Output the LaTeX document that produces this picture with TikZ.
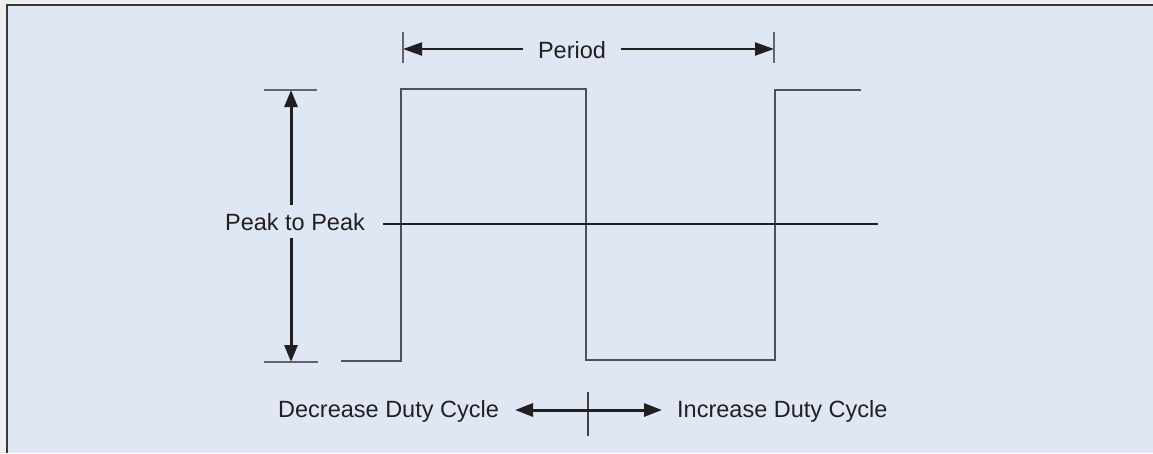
\documentclass[tikz,border=0pt]{standalone}
\usepackage{fontspec}
\setmainfont{Liberation Sans}
\usetikzlibrary{arrows.meta}
\definecolor{bgc}{RGB}{224,231,244}
\definecolor{ink}{RGB}{35,31,32}
\definecolor{wavec}{RGB}{80,80,86}
\definecolor{tickc}{RGB}{100,100,106}
\definecolor{outc}{RGB}{238,238,238}
\tikzset{
  lbl/.style={inner sep=0pt, text=ink, font=\fontsize{23.5}{28}\selectfont},
  wave/.style={draw=wavec, line width=1.8pt, line join=miter},
  tickln/.style={draw=tickc, line width=1.6pt},
  parr/.style={draw=ink, line width=2.2pt, -{Triangle[length=19pt,width=13pt]}},
  varr/.style={draw=ink, line width=3pt, -{Triangle[length=17pt,width=13pt]}},
  darr/.style={draw=ink, line width=3pt, {Triangle[length=18pt,width=13pt]}-{Triangle[length=18pt,width=13pt]}},
  midln/.style={draw=ink, line width=2pt},
}
\begin{document}
\begin{tikzpicture}[x=1pt,y=-1pt]
\useasboundingbox (0,0) rectangle (1153,453);
% background and frame
\fill[outc] (0,0) rectangle (1153,453);
\fill[bgc] (7,5) rectangle (1153,453);
\draw[ink!90, line width=2.4pt] (7,453) -- (7,5) -- (1153,5);

% square wave
\coordinate (w0) at (341,361);
\coordinate (w1) at (401,361);
\coordinate (w2) at (401,89);
\coordinate (w3) at (586,89);
\coordinate (w4) at (586,360);
\coordinate (w5) at (775,360);
\coordinate (w6) at (775,90);
\coordinate (w7) at (861,90);
\draw[wave] (w0) -- (w1) -- (w2) -- (w3) -- (w4) -- (w5) -- (w6) -- (w7);

% midline
\coordinate (m0) at (383,224);
\coordinate (m1) at (878,224);
\draw[midln] (m0) -- (m1);

% period
\node[lbl, anchor=base, inner xsep=15pt] (per) at (572,58) {Period};
\coordinate (pLt) at (403,32);
\coordinate (pLb) at (403,63);
\coordinate (pRt) at (774,32);
\coordinate (pRb) at (774,63);
\coordinate (pL) at (403,49);
\coordinate (pR) at (774,49);
\draw[tickln] (pLt) -- (pLb);
\draw[tickln] (pRt) -- (pRb);
\draw[parr] (pL -| per.west) -- (pL);
\draw[parr] (pR -| per.east) -- (pR);

% peak to peak
\node[lbl, anchor=base, inner ysep=8pt] (pk) at (295,230) {Peak to Peak};
\coordinate (tkT0) at (264,90);
\coordinate (tkT1) at (317,90);
\coordinate (tkB0) at (264,362);
\coordinate (tkB1) at (318,362);
\draw[tickln] (tkT0) -- (tkT1);
\draw[tickln] (tkB0) -- (tkB1);
\coordinate (ppT) at (291,90);
\coordinate (ppB) at (291,362);
\draw[varr] (ppT |- 0,205) -- (ppT);
\draw[varr] (ppB |- 0,238) -- (ppB);

% duty cycle
\node[lbl, anchor=base west] (dec) at (278,417) {Decrease Duty Cycle};
\node[lbl, anchor=base west] (inc) at (677,417) {Increase Duty Cycle};
\coordinate (dT) at (588,392);
\coordinate (dB) at (588,436);
\draw[tickln, draw=ink!85, line width=1.4pt] (dT) -- (dB);
\coordinate (dL) at (515,410);
\coordinate (dR) at (662,410);
\draw[darr] (dL) -- (dR);
\end{tikzpicture}
\end{document}
